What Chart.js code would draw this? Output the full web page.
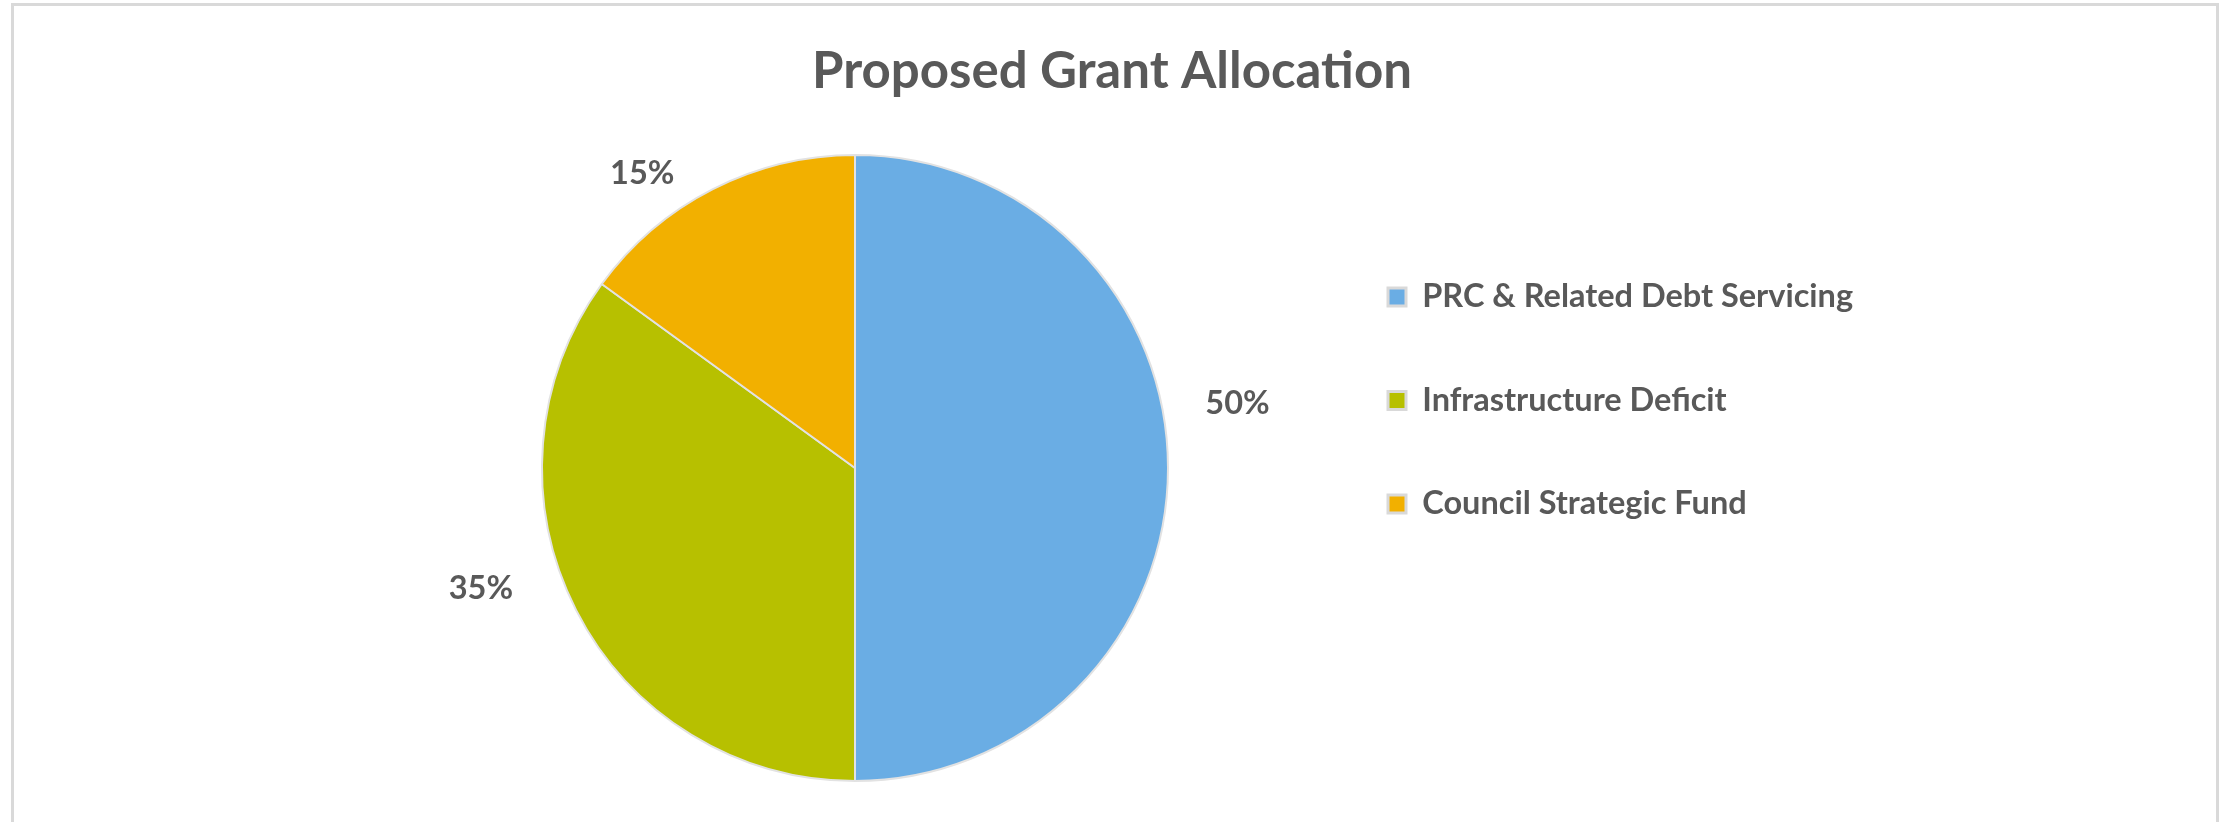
<!DOCTYPE html>
<html>
<head>
<meta charset="utf-8">
<script src="https://cdn.jsdelivr.net/npm/chart.js@4.4.1/dist/chart.umd.min.js"></script>
<style>
  html, body { margin: 0; padding: 0; background: #ffffff; }
  #frame { position: absolute; left: 11px; top: 3px; width: 2202px; height: 900px; border: 3px solid #d9d9d9; }
  #wrap { position: absolute; left: 0; top: 0; width: 2224px; height: 822px; }
</style>
</head>
<body>
<div id="frame"></div>
<div id="wrap"><canvas id="c" width="2224" height="822"></canvas></div>
<script>
// ---- data ----
const chartTitle = 'Proposed Grant Allocation';
const categories = ['PRC & Related Debt Servicing', 'Infrastructure Deficit', 'Council Strategic Fund'];
const shares = [50, 35, 15];
const sliceColors = ['#6aade4', '#b7c000', '#f2b000'];

// ---- style / layout constants ----
const TEXT = '#595959';
const FAMILY = 'Lato, "Open Sans", sans-serif';
const LEGEND_SIZE = 32.5;
const TITLE_SIZE = 51;
const LABEL_SIZE = 32.5;
const ROW = 103.5;          // legend row pitch
const BOX = 18;
const LEGEND_W = 514;
const BOX_LEFT = 1388;
const legendPad = 45;
const legendLineHeight = (ROW - legendPad) / LEGEND_SIZE;
const side = 2224 - LEGEND_W + legendPad - BOX_LEFT;
const TOP = 45, BOTTOM = 40;
const TITLE_LH = 1.0;
const titleTopPad = 72 - TOP - TITLE_SIZE * TITLE_LH / 2;
const titleBottomPad = 154 - TOP - titleTopPad - TITLE_SIZE * TITLE_LH;

const sliceLabels = {
  id: 'sliceLabels',
  afterDatasetsDraw(chart, args, opts) {
    const meta = chart.getDatasetMeta(0);
    const data = chart.data.datasets[0].data;
    const total = data.reduce((a, b) => a + b, 0);
    const ctx = chart.ctx;
    ctx.save();
    ctx.font = `bold ${LABEL_SIZE}px ${FAMILY}`;
    ctx.fillStyle = TEXT;
    ctx.textAlign = 'center';
    ctx.textBaseline = 'middle';
    meta.data.forEach((arc, i) => {
      const p = arc.getProps(['x', 'y', 'startAngle', 'endAngle', 'outerRadius'], true);
      const mid = (p.startAngle + p.endAngle) / 2 + opts.angleShift[i] * Math.PI / 180;
      const r = p.outerRadius * opts.radiusFactor[i];
      ctx.fillText(Math.round(data[i] / total * 100) + '%', p.x + Math.cos(mid) * r, p.y + Math.sin(mid) * r + 2);
    });
    ctx.restore();
  }
};

const baseLabels = (Chart.overrides.pie && Chart.overrides.pie.plugins && Chart.overrides.pie.plugins.legend &&
  Chart.overrides.pie.plugins.legend.labels.generateLabels) ||
  Chart.overrides.doughnut.plugins.legend.labels.generateLabels;

new Chart(document.getElementById('c'), {
  type: 'pie',
  data: {
    labels: categories,
    datasets: [{
      data: shares,
      backgroundColor: sliceColors,
      borderColor: '#e2e2e2',
      borderWidth: 2
    }]
  },
  plugins: [sliceLabels],
  options: {
    responsive: false,
    animation: false,
    devicePixelRatio: 1,
    layout: { padding: { left: side, right: side, top: TOP, bottom: BOTTOM } },
    plugins: {
      tooltip: { enabled: false },
      title: {
        display: true,
        text: chartTitle,
        color: TEXT,
        font: { family: FAMILY, size: TITLE_SIZE, weight: 'bold', lineHeight: TITLE_LH },
        padding: { top: titleTopPad, bottom: titleBottomPad }
      },
      legend: {
        position: 'right',
        align: 'center',
        maxWidth: LEGEND_W,
        labels: {
          color: TEXT,
          font: { family: FAMILY, size: LEGEND_SIZE, weight: 'bold', lineHeight: legendLineHeight },
          boxWidth: BOX,
          boxHeight: BOX,
          padding: legendPad,
          generateLabels(chart) {
            return baseLabels(chart).map(it => Object.assign(it, {
              text: [it.text], lineWidth: 3, strokeStyle: '#d9d9d9', fontColor: TEXT
            }));
          }
        }
      },
      sliceLabels: {
        angleShift: [-9.8, 9.4, -8.7],
        radiusFactor: [1.24, 1.254, 1.165]
      }
    }
  }
});
</script>
</body>
</html>
